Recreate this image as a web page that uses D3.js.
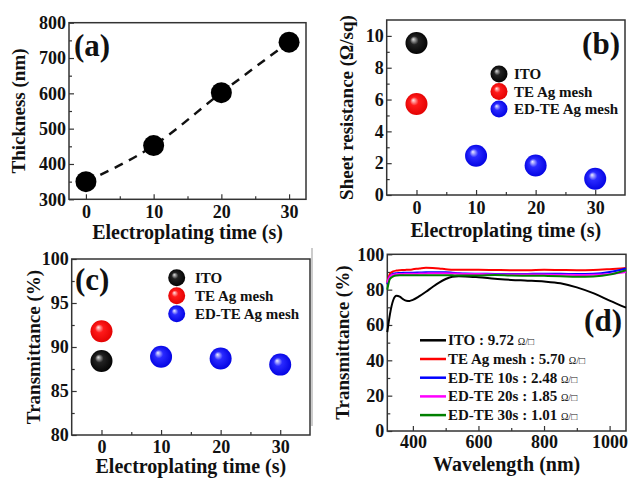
<!DOCTYPE html>
<html>
<head>
<meta charset="utf-8">
<script src="https://cdn.jsdelivr.net/npm/d3@7"></script>
<style>
  body { margin: 0; background: #fff; }
  text { font-family: "Liberation Serif", "Times New Roman", serif; }
</style>
</head>
<body>
<script>
// ---- data ----
// (a) thickness vs electroplating time
const timeA = [0, 10, 20, 30];
const thickness = [350, 452, 602, 745];

// (b) sheet resistance
const itoTime = [0];
const itoSheet = [9.55];
const teTime = [0];
const teSheet = [5.72];
const edTime = [10, 20, 30];
const edSheet = [2.47, 1.85, 1.02];

// (c) transmittance at 550 nm
const itoTrans = [88.4];
const teTrans = [91.8];
const edTrans = [88.9, 88.7, 88.0];

const legendBC = ["ITO", "TE Ag mesh", "ED-TE Ag mesh"];

// (d) spectra
const wavelength = [322, 330, 340, 350, 360, 370, 380, 390, 400, 420, 440, 460, 480, 500, 520, 540, 560, 600, 650, 700, 750, 800, 850, 900, 950, 1000, 1050];
const specITO  = [56, 66, 74, 76.5, 76, 74.6, 73.7, 73.6, 74.2, 76.3, 78.8, 81.5, 84, 86, 87.3, 87.6, 87.5, 87, 86.2, 85.5, 85.1, 84.6, 83.6, 81.3, 78, 73.8, 69.8];
const specTE   = [84, 89, 90.3, 90.8, 91, 91.1, 91.2, 91.3, 91.5, 92, 92.4, 92.3, 92, 91.5, 91.3, 91.2, 91.2, 91.2, 91.1, 91, 91, 91.2, 91.1, 91, 91.1, 91.6, 92.3];
const specED10 = [83, 87.5, 89, 89.3, 89.4, 89.5, 89.5, 89.6, 89.6, 89.7, 89.8, 89.8, 89.8, 89.8, 89.6, 89.3, 89.1, 89, 88.9, 88.8, 88.9, 89, 89, 88.8, 89, 90, 92];
const specED20 = [84, 87.5, 88.5, 88.8, 88.9, 88.9, 89, 89, 89, 89.1, 89.2, 89.3, 89.3, 89.3, 89.2, 89, 88.9, 88.8, 88.6, 88.5, 88.5, 88.5, 88.4, 88.3, 88.4, 88.8, 90];
const specED30 = [80, 86, 87.5, 88, 88.1, 88.1, 88.2, 88.2, 88.2, 88.2, 88.2, 88.2, 88.2, 88.2, 88.1, 88, 88, 88, 88.3, 88, 87.9, 87.8, 87.6, 87.3, 87.5, 88.5, 91];
const specNames = ["ITO : 9.72 ", "TE Ag mesh : 5.70 ", "ED-TE 10s : 2.48 ", "ED-TE 20s : 1.85 ", "ED-TE 30s : 1.01 "];
const specColors = ["#000000", "#ff0000", "#0000ff", "#ff00ff", "#008000"];

const svg = d3.select("body").append("svg")
    .attr("width", 629)
    .attr("height", 478);

// sphere gradients
const defs = svg.append("defs");
function sphere(id, hi, mid, dark) {
  let gr = defs.append("radialGradient").attr("id", id)
      .attr("cx", "50%").attr("cy", "50%").attr("r", "55%")
      .attr("fx", "35%").attr("fy", "32%");
  gr.append("stop").attr("offset", "0%").attr("stop-color", hi);
  gr.append("stop").attr("offset", "35%").attr("stop-color", mid);
  gr.append("stop").attr("offset", "100%").attr("stop-color", dark);
}
sphere("gBlack", "#e0e0e0", "#222", "#000");
sphere("gRed", "#ffe8e8", "#ff1a1a", "#e00000");
sphere("gBlue", "#eeeeff", "#2a2aff", "#0000e0");

// builds a framed panel with inward ticks
function panel(box, xDom, yDom, xMaj, xMin, yMaj, yMin, xTitle, yTitle, titlePos) {
  let x = d3.scaleLinear().domain(xDom).range([box.l, box.r]);
  let y = d3.scaleLinear().domain(yDom).range([box.b, box.t]);
  let g = svg.append("g");

  g.append("g").attr("transform", `translate(0,${box.b})`)
      .call(d3.axisBottom(x).tickValues(xMaj).tickSize(-5).tickPadding(titlePos.pad || 6).tickFormat(d3.format("d")));
  g.append("g").attr("transform", `translate(0,${box.b})`)
      .call(d3.axisBottom(x).tickValues(xMin).tickSize(-3).tickFormat(""));
  g.append("g").attr("transform", `translate(${box.l},0)`)
      .call(d3.axisLeft(y).tickValues(yMaj).tickSize(-5).tickPadding(3).tickFormat(d3.format("d")));
  g.append("g").attr("transform", `translate(${box.l},0)`)
      .call(d3.axisLeft(y).tickValues(yMin).tickSize(-3).tickFormat(""));

  g.selectAll(".domain").remove();
  g.selectAll(".tick line").attr("stroke", "#333").attr("stroke-width", 1.2);
  g.selectAll(".tick text")
      .attr("font-family", "Liberation Serif, serif")
      .attr("font-size", 18).attr("font-weight", "bold").attr("fill", "#111");

  g.append("rect")
      .attr("x", box.l).attr("y", box.t)
      .attr("width", box.r - box.l).attr("height", box.b - box.t)
      .attr("fill", "none").attr("stroke", "#333").attr("stroke-width", 1.5);

  g.append("text")
      .attr("x", (box.l + box.r) / 2).attr("y", titlePos.xb)
      .attr("text-anchor", "middle")
      .attr("font-size", 20).attr("font-weight", "bold").attr("fill", "#111")
      .text(xTitle);
  g.append("text")
      .attr("transform", `translate(${titlePos.yx}, ${(box.t + box.b) / 2}) rotate(-90)`)
      .attr("text-anchor", "middle")
      .attr("font-size", 19).attr("font-weight", "bold").attr("fill", "#111")
      .text(yTitle);
  return {g: g, x: x, y: y};
}

function tag(x, y, s, anchor) {
  svg.append("text").attr("x", x).attr("y", y)
      .attr("text-anchor", anchor || "start")
      .attr("font-size", 31).attr("font-weight", "bold").attr("fill", "#111")
      .text(s);
}

function balls(p, xs, ys, fill, r) {
  p.g.selectAll(null).data(xs).enter().append("circle")
      .attr("cx", d => p.x(d))
      .attr("cy", (d, i) => p.y(ys[i]))
      .attr("r", r)
      .attr("fill", fill);
}

function sphereLegend(p, x0, y0, gap, xText) {
  let fills = ["url(#gBlack)", "url(#gRed)", "url(#gBlue)"];
  legendBC.forEach(function (name, i) {
    p.g.append("circle").attr("cx", x0).attr("cy", y0 + i * gap).attr("r", 8.5).attr("fill", fills[i]);
    p.g.append("text").attr("x", xText).attr("y", y0 + i * gap + 5)
        .attr("font-size", 15).attr("font-weight", "bold").attr("fill", "#111")
        .text(name);
  });
}

// ---- (a) ----
let pa = panel({l: 69, r: 306, t: 22.7, b: 199.3}, [-2.5, 32.5], [300, 800],
    [0, 10, 20, 30], [5, 15, 25], [300, 400, 500, 600, 700, 800], [350, 450, 550, 650, 750],
    "Electroplating time (s)", "Thickness (nm)", {xb: 239, yx: 25});
pa.g.append("path")
    .datum(timeA)
    .attr("d", d3.line().x(d => pa.x(d)).y((d, i) => pa.y(thickness[i])).curve(d3.curveMonotoneX))
    .attr("fill", "none").attr("stroke", "#111").attr("stroke-width", 2.5)
    .attr("stroke-dasharray", "9,7");
balls(pa, timeA, thickness, "#000", 10.5);
tag(74, 56, "(a)");

// ---- (b) ----
let pb = panel({l: 386.7, r: 625, t: 20, b: 195}, [-5, 35], [0, 11],
    [0, 10, 20, 30], [5, 15, 25], [0, 2, 4, 6, 8, 10], [1, 3, 5, 7, 9],
    "Electroplating time (s)", "Sheet resistance (\u03a9/sq)", {xb: 237, yx: 353});
balls(pb, itoTime, itoSheet, "url(#gBlack)", 11);
balls(pb, teTime, teSheet, "url(#gRed)", 11);
balls(pb, edTime, edSheet, "url(#gBlue)", 11);
sphereLegend(pb, 499, 74, 17.5, 514);
tag(620, 54, "(b)", "end");

// ---- (c) ----
let pc = panel({l: 71.7, r: 310, t: 259, b: 435}, [-5, 35], [80, 100],
    [0, 10, 20, 30], [5, 15, 25], [80, 85, 90, 95, 100], [82.5, 87.5, 92.5, 97.5],
    "Electroplating time (s)", "Transmittance (%)", {xb: 473, yx: 40, pad: 5});
balls(pc, itoTime, itoTrans, "url(#gBlack)", 11);
balls(pc, teTime, teTrans, "url(#gRed)", 11);
balls(pc, edTime, edTrans, "url(#gBlue)", 11);
sphereLegend(pc, 176.7, 277.7, 18, 195);
tag(75, 290, "(c)");

// stray divider line seen in the original
svg.append("line").attr("x1", 312).attr("x2", 312).attr("y1", 248).attr("y2", 426)
    .attr("stroke", "#999").attr("stroke-width", 1);

// ---- (d) ----
let pd = panel({l: 387.3, r: 626, t: 254.3, b: 431}, [322, 1050], [0, 100],
    [400, 600, 800, 1000], [500, 700, 900], [0, 20, 40, 60, 80, 100], [10, 30, 50, 70, 90],
    "Wavelength (nm)", "Transmittance (%)", {xb: 471, yx: 349, pad: 4});
let specs = [specITO, specTE, specED10, specED20, specED30];
let line = d3.line().x(d => pd.x(d[0])).y(d => pd.y(d[1])).curve(d3.curveMonotoneX);
specs.forEach(function (s, k) {
  pd.g.append("path")
      .datum(wavelength.map((w, i) => [w, s[i]]))
      .attr("d", line)
      .attr("fill", "none").attr("stroke", specColors[k]).attr("stroke-width", 2);
});
specNames.forEach(function (name, i) {
  let yy = 340.3 + i * 18.7;
  pd.g.append("line").attr("x1", 420).attr("x2", 446).attr("y1", yy).attr("y2", yy)
      .attr("stroke", specColors[i]).attr("stroke-width", 2.5);
  let t = pd.g.append("text").attr("x", 448).attr("y", yy + 5)
      .attr("font-size", 15).attr("font-weight", "bold").attr("fill", "#111");
  t.append("tspan").text(name);
  t.append("tspan").attr("font-size", 10).attr("font-weight", "normal").text("\u03a9/\u25a1");
});
tag(622, 331, "(d)", "end");
</script>
</body>
</html>
